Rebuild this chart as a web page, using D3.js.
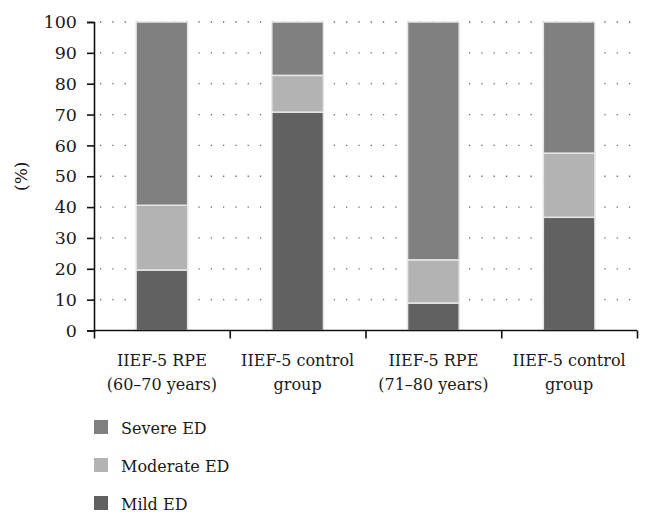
<!DOCTYPE html>
<html><head><meta charset="utf-8">
<script src="https://cdn.jsdelivr.net/npm/d3@7"></script>
<style>body{margin:0;background:#fff}svg{display:block}</style>
</head><body>
<script>
const categories = [["IIEF-5 RPE","(60\u201370 years)"],["IIEF-5 control","group"],["IIEF-5 RPE","(71\u201380 years)"],["IIEF-5 control","group"]];
const mild = [19.6, 70.8, 8.9, 36.7];
const moderate = [21.0, 11.9, 14.0, 20.8];
const severe = [59.4, 17.3, 77.1, 42.5];
const seriesNames = ["Mild ED","Moderate ED","Severe ED"];
const seriesColors = ["#616161","#b3b3b3","#808080"];
const yTicks = [0,10,20,30,40,50,60,70,80,90,100];
const legendOrder = ["Severe ED","Moderate ED","Mild ED"];

const FONT = "'DejaVu Serif', serif";
const W=651,H=524;
const m={left:94,right:14,top:22,bottom:193.5};
const svg=d3.select("body").append("svg").attr("width",W).attr("height",H);
const x=d3.scaleBand().domain(d3.range(categories.length)).range([m.left,W-m.right]).paddingInner(0.62).paddingOuter(0.31);
const y=d3.scaleLinear().domain([0,100]).range([H-m.bottom,m.top]);

svg.append("g").selectAll("line").data(yTicks.filter(d=>d>0)).join("line")
 .attr("x1",m.left+6).attr("x2",W-m.right).attr("y1",d=>y(d)).attr("y2",d=>y(d))
 .attr("stroke","#666").attr("stroke-width",1.3).attr("stroke-dasharray","1.3 11");

const rows=categories.map((c,i)=>({i,Mild:mild[i],Moderate:moderate[i],Severe:severe[i]}));
const stack=d3.stack().keys(["Mild","Moderate","Severe"])(rows);
svg.append("g").selectAll("g").data(stack).join("g").attr("fill",(d,i)=>seriesColors[i])
 .selectAll("rect").data(d=>d).join("rect")
 .attr("x",d=>x(d.data.i)).attr("width",x.bandwidth())
 .attr("y",d=>y(d[1])).attr("height",d=>y(d[0])-y(d[1]))
 .attr("stroke","#e6e6e6").attr("stroke-width",1.5);

const ya=svg.append("g").attr("transform",`translate(${m.left},0)`)
 .call(d3.axisLeft(y).tickValues(yTicks).tickSize(7).tickPadding(10));
ya.attr("font-family",FONT).attr("font-size",17.5);
ya.select(".domain").attr("stroke","#111").attr("stroke-width",1.6);
ya.selectAll(".tick line").attr("stroke","#111").attr("stroke-width",1.6);
ya.selectAll(".tick text").attr("fill","#1a1a1a");

const xb=d3.scaleLinear().domain([0,categories.length]).range([m.left,W-m.right]);
const xa=svg.append("g").attr("transform",`translate(0,${y(0)})`)
 .call(d3.axisBottom(xb).tickValues(d3.range(categories.length+1)).tickSize(8).tickFormat(""));
xa.select(".domain").attr("stroke","#111").attr("stroke-width",1.6).attr("d",`M${m.left},0H${W-m.right}`);
xa.selectAll(".tick line").attr("stroke","#111").attr("stroke-width",1.6);

const lab=svg.append("g").selectAll("text").data(categories).join("text")
 .attr("text-anchor","middle").attr("x",(d,i)=>x(i)+x.bandwidth()/2).attr("y",y(0)+35)
 .attr("font-family",FONT).attr("font-size",16).attr("fill","#1a1a1a");
lab.selectAll("tspan").data(d=>d).join("tspan")
 .attr("x",function(){return this.parentNode.getAttribute("x");}).attr("dy",(d,j)=>j?24.5:0).text(d=>d);

svg.append("text").attr("transform",`translate(21,${y(50)}) rotate(-90)`).attr("text-anchor","middle")
 .attr("dy","0.35em").attr("font-family",FONT).attr("font-size",17).attr("fill","#1a1a1a").text("(%)");

const lg=svg.append("g").selectAll("g").data(legendOrder).join("g")
 .attr("transform",(d,i)=>`translate(94,${427+i*38})`);
lg.append("rect").attr("x",0).attr("y",-7).attr("width",14).attr("height",14)
 .attr("fill",d=>seriesColors[seriesNames.indexOf(d)]);
lg.append("text").attr("x",27).attr("y",6.5).attr("font-family",FONT).attr("font-size",16).attr("fill","#1a1a1a").text(d=>d);
</script>
</body></html>
